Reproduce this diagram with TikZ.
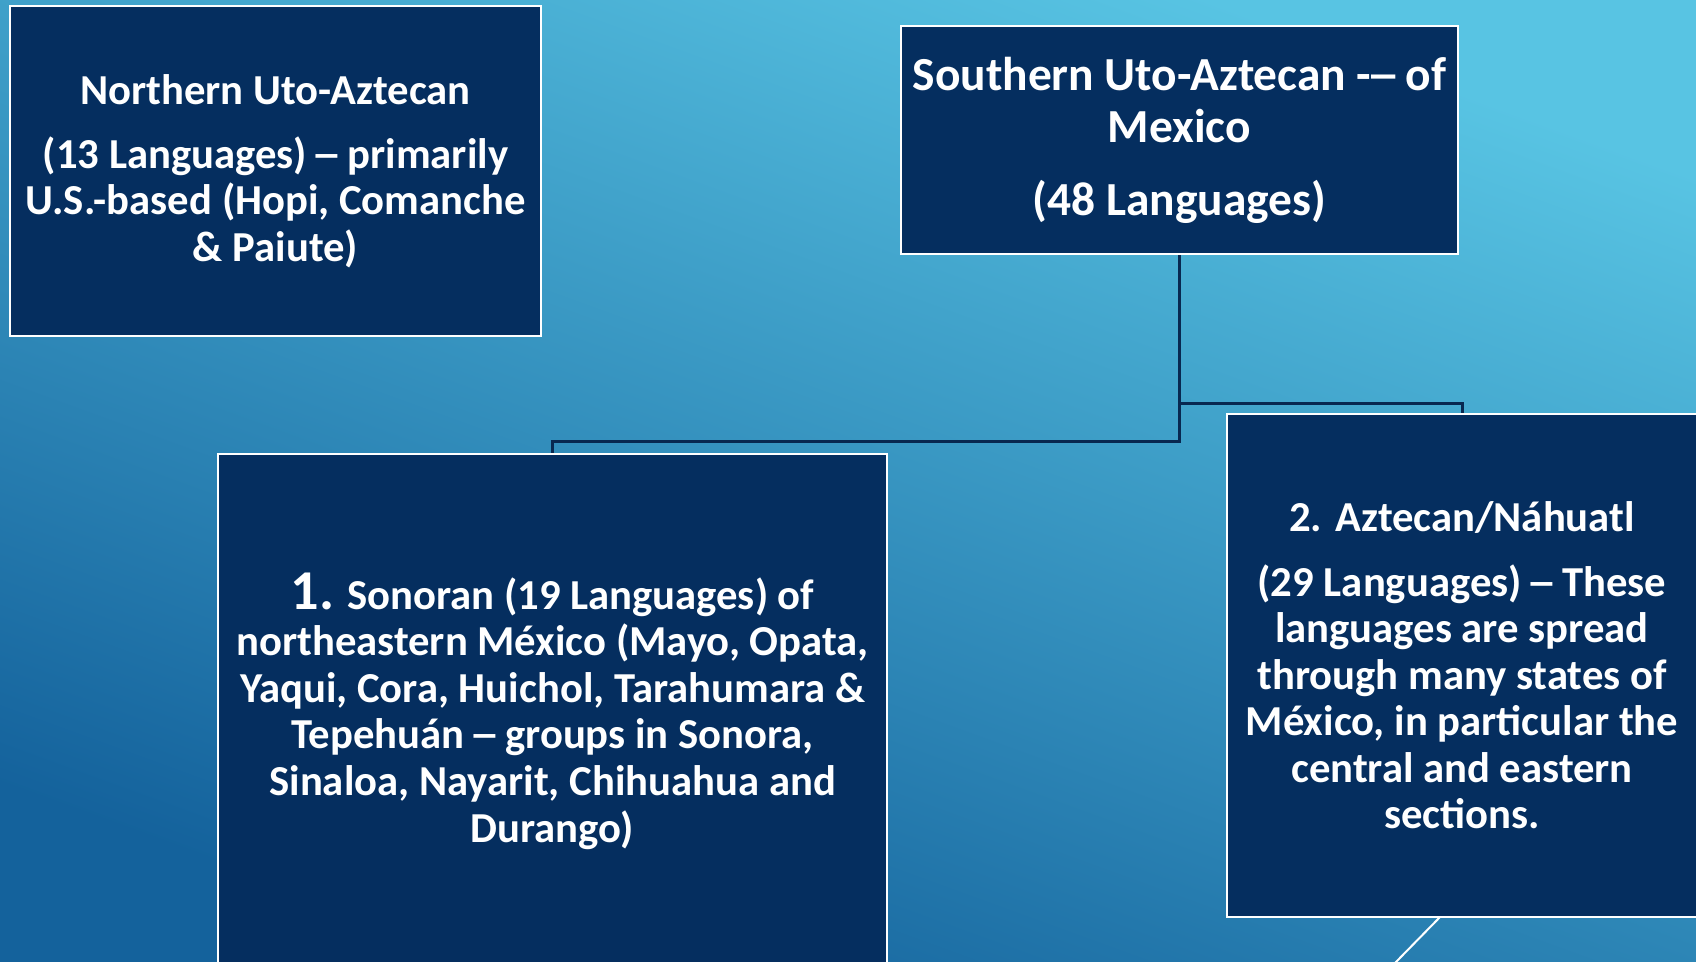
\documentclass[tikz,border=0pt]{standalone}
\usepackage{fontspec}
\setmainfont{Carlito}
\usepackage{graphicx}
\usepackage{tikz}
\usetikzlibrary{positioning,calc}

\definecolor{bgtop}{RGB}{88,196,227}
\definecolor{bgbottom}{RGB}{20,98,156}
\definecolor{boxfill}{RGB}{5,46,95}
\definecolor{linknavy}{RGB}{8,40,80}
\newcommand{\wdash}{\makebox[0.5em]{\scalebox{1.45}[1]{–}}}

\begin{document}
\begin{tikzpicture}[x=0.02cm,y=-0.02cm,
  langbox/.style={rectangle,draw=white,line width=0.05cm,fill=boxfill,text=white,inner sep=0pt,align=center,font=\fontsize{24.3}{26.5}\selectfont\bfseries},
  edge/.style={draw=linknavy,line width=0.06cm},
  tail/.style={draw=white,line width=0.04cm}]
\useasboundingbox (0,0) rectangle (1696,961);
\clip (0,0) rectangle (1696,961);
\shade[top color=bgtop,bottom color=bgbottom,shading angle=-20] (0,0) rectangle (1696,961);

\node(north)[langbox,minimum width=10.62cm,minimum height=6.6cm] at (275.5,171)
  {Northern Uto-Aztecan\\[10pt](13 Languages) \wdash{} primarily\\U.S.-based (Hopi, Comanche\\\& Paiute)};
\node(south)[langbox,minimum width=11.14cm,minimum height=4.56cm,font=\fontsize{27}{30}\selectfont\bfseries] at (1179.5,140)
  {Southern Uto-Aztecan -\wdash{} of\\Mexico\\[11pt](48 Languages)};
\node(sonoran)[langbox,minimum width=13.38cm,minimum height=10.28cm] at (552.5,711)
  {{\fontsize{32}{32}\selectfont 1.} Sonoran (19 Languages) of\\northeastern México (Mayo, Opata,\\Yaqui, Cora, Huichol, Tarahumara \&\\Tepehuán \wdash{} groups in Sonora,\\Sinaloa, Nayarit, Chihuahua and\\Durango)};
\node(aztecan)[langbox,minimum width=9.4cm,minimum height=10.06cm] at (1462,665.5)
  {2. Aztecan/Náhuatl\\[10pt](29 Languages) \wdash{} These\\languages are spread\\through many states of\\México, in particular the\\central and eastern\\sections.};

\draw [edge] (south.south) -- ++(0,186) -| (sonoran.north);
\draw [edge] (south.south) -- ++(0,148) -| (aztecan.north);

\coordinate (tailtop) at (1440,917);
\coordinate (tailend) at (1394,964);
\draw [tail] (tailtop) -- (tailend);
\end{tikzpicture}
\end{document}
